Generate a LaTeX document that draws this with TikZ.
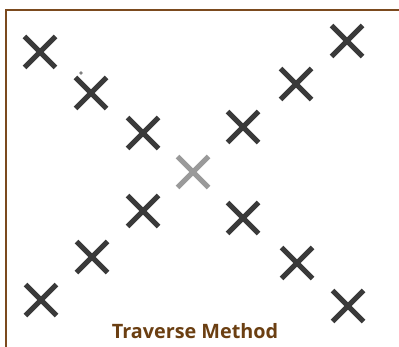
\documentclass[tikz,border=0pt]{standalone}
\usepackage{fontspec}
\setmainfont{Open Sans}
\definecolor{framebrown}{HTML}{7B4A1E}
\definecolor{textbrown}{HTML}{6B3F12}
\definecolor{markdark}{HTML}{3A3A3A}
\definecolor{marklight}{HTML}{9A9A9A}
\tikzset{
  xmark/.style={line width=5pt, draw=markdark},
  xmarklight/.style={xmark, draw=marklight},
}
% one X-shaped station mark, centred at (#2,#3) in pixel units
\newcommand{\stationmark}[3]{%
  \draw[#1] (#2-15.5,346-#3-15.5) -- (#2+15.5,346-#3+15.5);
  \draw[#1] (#2-15.5,346-#3+15.5) -- (#2+15.5,346-#3-15.5);
}
\begin{document}
\begin{tikzpicture}[x=1pt,y=1pt]
  \useasboundingbox (0,0) rectangle (399,346);
  % frame, open towards the right and the bottom
  \draw[framebrown, line width=2pt] (5.5,-5) -- (5.5,335.5) -- (405,335.5);
  % descending diagonal
  \stationmark{xmark}{40}{52}
  \stationmark{xmark}{91}{93}
  \stationmark{xmark}{143}{133}
  % centre mark
  \stationmark{xmarklight}{193}{172}
  % ascending branch
  \stationmark{xmark}{243}{127}
  \stationmark{xmark}{296}{84}
  \stationmark{xmark}{347}{41}
  % lower branches
  \stationmark{xmark}{143}{211}
  \stationmark{xmark}{92}{257}
  \stationmark{xmark}{41}{300}
  \stationmark{xmark}{243}{218}
  \stationmark{xmark}{297}{263}
  \stationmark{xmark}{348}{306}
  % small speck
  \fill[gray] (81,346-73) circle (1.8pt);
  \node[text=textbrown, font=\bfseries\fontsize{19.8}{22}\selectfont, anchor=base] (title) at (195,346-338) {Traverse Method};
\end{tikzpicture}
\end{document}
